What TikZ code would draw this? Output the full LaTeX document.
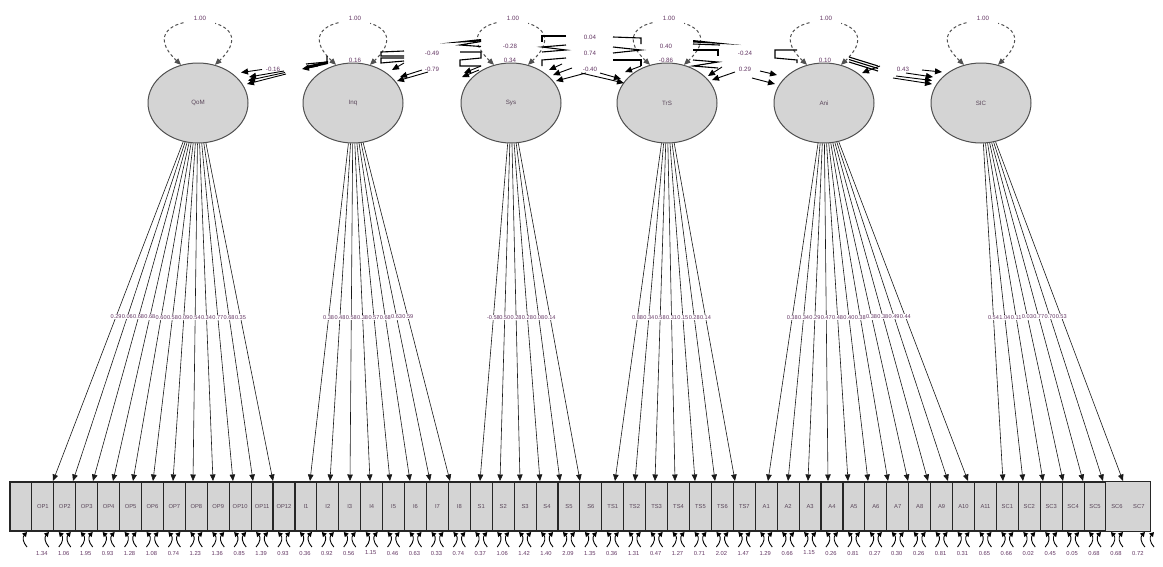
\documentclass[tikz,border=0pt]{standalone}
\usepackage{fontspec}
\setmainfont{Liberation Sans}
\usetikzlibrary{arrows.meta,shapes.geometric}
\definecolor{numcol}{RGB}{100,55,100}
\definecolor{latfill}{RGB}{212,212,212}
\definecolor{edgecol}{RGB}{80,80,80}
\definecolor{labcol}{RGB}{90,70,90}
\begin{document}
\begin{tikzpicture}[x=1pt,y=-1pt,
  latent/.style={ellipse,draw=edgecol,line width=1pt,fill=latfill,minimum width=100pt,minimum height=80pt,inner sep=0pt,font=\fontsize{6.2}{7}\selectfont,text=labcol},
  indbox/.style={rectangle,draw=black!85,line width=1.1pt,fill=latfill,minimum width=21.92pt,minimum height=49pt,inner sep=0pt,font=\fontsize{5.8}{6}\selectfont,text=labcol},
  indnd/.style={indbox,draw=none},
  load/.style={draw=black!90,line width=0.6pt,-{Triangle[length=6.5pt,width=5.5pt]}},
  lodlab/.style={font=\fontsize{5.6}{6}\selectfont,text=numcol,inner sep=0.6pt},
  errlab/.style={font=\fontsize{5.8}{6}\selectfont,text=numcol,inner sep=0pt},
  errarr/.style={draw=black,line width=0.9pt,-{Triangle[length=4.5pt,width=5pt]}},
  varloop/.style={draw=edgecol,line width=1pt,dash pattern=on 3pt off 2.5pt,{Triangle[length=6.5pt,width=5.5pt]}-{Triangle[length=6.5pt,width=5.5pt]}},
  varlab/.style={font=\fontsize{6.2}{7}\selectfont,text=numcol,fill=white,inner sep=1pt,minimum width=30pt,minimum height=13pt},
  covlab/.style={font=\fontsize{6.2}{7}\selectfont,text=numcol,inner sep=0pt},
  cov/.style={draw=black,line width=0.9pt,-{Triangle[length=7pt,width=6pt]}},
  zig/.style={draw=black,line width=1.1pt},
]
\useasboundingbox (0,0) rectangle (1163,566);
\fill[white] (0,0) rectangle (1163,566);

% covariance labels partly hidden by ellipses
\node[covlab] (c2) at (355,60) {0.16};
\node[covlab] (c6) at (510,60) {0.34};
\node[covlab] (c11) at (666,60) {-0.86};
\node[covlab] (c14) at (825,60) {0.10};

% latent variables
\node[latent] (QoM) at (198,103) {QoM};
\node[latent] (Inq) at (353,103) {Inq};
\node[latent] (Sys) at (511,103) {Sys};
\node[latent] (TrS) at (667,103) {TrS};
\node[latent] (Ani) at (824,103) {Ani};
\node[latent] (SIC) at (981,103) {SIC};

% variance loops
\foreach \L/\x in {QoM/198,Inq/353,Sys/511,TrS/667,Ani/824,SIC/981}{
  \draw[varloop] (\L.114) .. controls +(-60,-57) and +(60,-57) .. (\L.66);
  \node[varlab] (v\L) at (\x+2,18) {1.00};
}

% other covariance labels
\node[covlab] (c1) at (273,69) {-0.16};
\node[covlab] (c3) at (432,53) {-0.49};
\node[covlab] (c4) at (432,69) {-0.79};
\node[covlab] (c5) at (510,46) {-0.28};
\node[covlab] (c7) at (590,37) {0.04};
\node[covlab] (c8) at (590,53) {0.74};
\node[covlab] (c9) at (590,69) {-0.40};
\node[covlab] (c10) at (666,46) {0.40};
\node[covlab] (c12) at (745,53) {-0.24};
\node[covlab] (c13) at (745,69) {0.29};
\node[covlab] (c15) at (903,69) {0.43};

% covariance arrows (cluttered)
% QoM right
\draw[cov] (286,74) -- (247,84);
\draw[cov] (285,72.5) -- (248,80.5);
\draw[cov] (284,71) -- (249,77);
\draw[cov] (262,69.5) -- (241,72.5);
% Inq left
\draw[zig] (327,56) -- (327,62) -- (306,64);
\fill (328,61) -- (328,64) -- (306,69) -- (306,66) -- cycle;
\draw[cov] (318,66) -- (302,69);
% Inq right
\draw[zig] (404,51) -- (381,52) -- (381,56) -- (404,56);
\draw[zig] (404,58) -- (381,58) -- (381,63) -- (404,61);
\draw[cov] (428,72) -- (397,81);
\draw[cov] (422,70) -- (400,77);
\draw[cov] (404,63) -- (392,70);
% Sys left
\fill (440,43.5) -- (481,39) -- (481,41.5) -- cycle;
\draw[zig] (481,41.5) -- (460,45) -- (481,46.5);
\draw[zig] (460,52) -- (481,52) -- (481,58) -- (460,60) -- (460,66) -- (481,66);
\draw[cov] (481,66) -- (464,73);
\draw[cov] (479,70) -- (462,77);
% Sys right
\draw[zig] (566,36) -- (542,36) -- (542,42);
\draw[zig] (566,45) -- (542,47) -- (566,50) -- (542,52);
\draw[zig] (566,58) -- (542,60) -- (542,66);
\draw[cov] (586,73) -- (556,81);
\draw[cov] (572,68) -- (553,75);
\draw[cov] (562,64) -- (549,70);
% TrS left
\draw[cov] (581,73) -- (624,83);
\draw[cov] (600,73) -- (621,79);
\draw[zig] (613,37) -- (641,38) -- (641,44);
\draw[zig] (613,47) -- (641,50) -- (613,53);
\draw[zig] (613,60) -- (641,60) -- (641,66);
\draw[cov] (641,66) -- (625,72);
% TrS right
\fill (741,45) -- (693,40) -- (693,42.5) -- cycle;
\draw[zig] (693,44) -- (720,45);
\draw[zig] (693,50) -- (718,50) -- (718,56);
\draw[zig] (693,60) -- (718,62) -- (693,66) -- (718,68);
\draw[cov] (722,67) -- (708,76);
\draw[cov] (735,72) -- (712,80);
% Ani left
\draw[cov] (752,78) -- (775,84);
\draw[cov] (760,71) -- (777,75);
\draw[zig] (797,50) -- (775,50) -- (775,58) -- (797,60) -- (797,63);
% Ani right
\draw[zig] (849,57) -- (878,66);
\draw[zig] (849,59.5) -- (878,68.5);
\draw[zig] (849,62) -- (878,71);
\draw[cov] (880,66) -- (862,73);
% SIC left
\draw[cov] (893,78) -- (932,84);
\draw[cov] (896,76) -- (932,80.5);
\draw[cov] (906,73) -- (933,77);
\draw[cov] (922,70) -- (942,72);

% indicator boxes
\node[indbox] (b0) at (20.96,506.5) {};
\foreach \nm/\ev [count=\i] in {OP1/1.34,OP2/1.06,OP3/1.95,OP4/0.93,OP5/1.28,OP6/1.08,OP7/0.74,OP8/1.23,OP9/1.36,OP10/0.85,OP11/1.39,OP12/0.93,
  I1/0.36,I2/0.92,I3/0.56,I4/1.15,I5/0.46,I6/0.63,I7/0.33,I8/0.74,
  S1/0.37,S2/1.06,S3/1.42,S4/1.40,S5/2.09,S6/1.35,
  TS1/0.36,TS2/1.31,TS3/0.47,TS4/1.27,TS5/0.71,TS6/2.02,TS7/1.47,
  A1/1.29,A2/0.66,A3/1.15,A4/0.26,A5/0.81,A6/0.27,A7/0.30,A8/0.26,A9/0.81,A10/0.31,A11/0.65,
  SC1/0.66,SC2/0.02,SC3/0.45,SC4/0.05,SC5/0.68,SC6/0.68,SC7/0.72}{
  \pgfmathsetmacro\bx{10+21.92*(\i+0.5)}
  \ifnum\i>49
    \node[indnd] (b\i) at (\bx,506.5) {\nm};
  \else
    \node[indbox] (b\i) at (\bx,506.5) {\nm};
  \fi
  \node[errlab] (e\i) at (\bx-1,553) {\ev};
  \ifnum\i>1 \ifnum\i<51
    \draw[errarr] (\bx-6,547) .. controls (\bx-1.5,542) and (\bx-1.5,537) .. (\bx-6,532);
  \fi\fi
  \draw[errarr] (\bx+6,547) .. controls (\bx+1.5,542) and (\bx+1.5,537) .. (\bx+6,532);
}
\draw[line width=1.1pt,draw=black!85] (b50.north west) rectangle (b51.south east);
\draw[errarr] (27,547) .. controls (22.5,542) and (22.5,537) .. (27,532);
\draw[errarr] (1154,547) .. controls (1149.5,542) and (1149.5,537) .. (1154,532);

% loadings
\foreach \L/\tx/\vals in {QoM/53/{0.29,0.06,0.68,0.68,0.60,0.58,0.09,0.54,0.34,0.77,0.68,0.35},
  Inq/310/{0.38,0.48,0.58,0.38,0.57,0.68,0.63,0.59},
  Sys/480/{-0.58,0.50,0.28,0.28,0.08,0.14},
  TrS/615/{0.88,0.34,0.58,0.31,0.15,0.28,0.14},
  Ani/768/{0.38,0.34,0.29,0.47,0.48,0.40,0.38,0.38,0.38,0.49,0.44},
  SIC/1003/{0.54,1.04,0.11,0.03,0.77,0.70,0.53}}{
  \foreach \v [count=\j] in \vals {
    \coordinate (t\L\j) at ({\tx+20*(\j-1)},481);
    \draw[load] (\L) -- (t\L\j) node[lodlab,pos=0.515,fill=white,text=white] {\v};
  }
  \foreach \v [count=\j] in \vals {
    \path (\L) -- (t\L\j) node[lodlab,pos=0.515] (l\L\j) {\v};
  }
}
\end{tikzpicture}
\end{document}
